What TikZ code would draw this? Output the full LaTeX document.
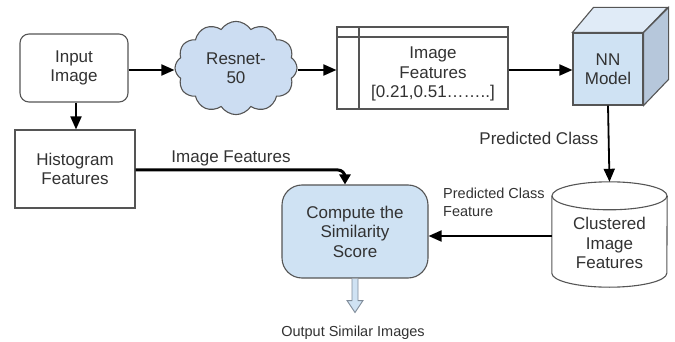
\documentclass[tikz,border=0pt]{standalone}
\usepackage{fontspec}
\setmainfont{Liberation Sans}
\usetikzlibrary{arrows.meta,shapes.symbols,calc}
\definecolor{lblue}{RGB}{207,226,243}
\definecolor{cblue}{RGB}{204,221,242}
\definecolor{tblue}{RGB}{224,235,247}
\definecolor{rblue}{RGB}{182,199,219}
\definecolor{edge}{RGB}{85,85,85}
\definecolor{txt}{RGB}{50,50,50}
\tikzset{
  box/.style={draw=edge,line width=1.1pt,fill=white,align=center,inner sep=0pt,text=txt},
  conn/.style={line width=1.8pt,-{Triangle[length=13pt,width=11pt]}},
  lbl/.style={text=txt,align=center,inner sep=0pt},
}
\begin{document}
\begin{tikzpicture}[x=1pt,y=-1pt,font=\fontsize{17}{19.5}\selectfont]
\useasboundingbox (0,0) rectangle (675,342);
% nodes
\node[box,rounded corners=9pt,minimum width=108pt,minimum height=68pt] (in) at (74,68) {Input\\Image};
\node[box,cloud,cloud puffs=12,cloud puff arc=115,fill=cblue,minimum width=122pt,minimum height=84pt] (rn) at (236,68) {Resnet-\\50};
\node[box,minimum width=171pt,minimum height=82pt] (feat) at (422.5,68) {};
\draw[edge,line width=1.1pt] (337,37) -- (508,37) (359,27) -- (359,109);
\node[lbl,anchor=center] (feattxt) at (433,74) {Image\\Features\\{}[0.21,0.51……..]};
% cube
\node[box,fill=lblue,minimum width=70pt,minimum height=72pt] (nn) at (608,69) {NN\\Model};
\draw[edge,line width=1.1pt,fill=tblue] (nn.north west) -- ++(21,-25) -- ++(74,0) -- (nn.north east) -- cycle;
\draw[edge,line width=1.1pt,fill=rblue] (nn.north east) -- ++(25,-25) -- ++(0,72) -- (nn.south east) -- cycle;
\node[box,minimum width=120pt,minimum height=78pt] (hist) at (75,169) {Histogram\\Features};
\node[box,fill=lblue,rounded corners=20pt,minimum width=146pt,minimum height=93pt] (cs) at (355,231.5) {Compute the\\Similarity\\Score};
% cylinder
\node[minimum width=115pt,minimum height=105pt,inner sep=0pt] (cyl) at (609.5,234.5) {};
\draw[edge,line width=1.1pt,fill=white] ($(cyl.north west)+(0,14)$) -- ($(cyl.south west)+(0,-14)$) arc[start angle=180,end angle=360,x radius=57.5,y radius=-14] -- ($(cyl.north east)+(0,14)$);
\draw[edge,line width=1.1pt] ($(cyl.north)+(0,14)$) ellipse[x radius=57.5,y radius=14];
\node[lbl] (cyltxt) at (609.5,243) {Clustered\\Image\\Features};
% connectors
\draw[conn] (in.east |- 0,70) -- (rn.west |- 0,70);
\draw[conn] (rn.east |- 0,70) -- (feat.west |- 0,70);
\draw[conn] (feat.east |- 0,70) -- (nn.west |- 0,70);
\draw[conn] (in.south -| 76,0) -- (hist.north -| 76,0);
\draw[conn] (nn.south) -- (cyl.north);
\node[lbl] (pc) at (539,138) {Predicted Class};
\draw[conn] (cyl.west |- 0,236) -- (cs.east |- 0,236);
\node[lbl,anchor=north west,align=left,font=\fontsize{14.5}{17.5}\selectfont] (pcf) at (443,188) {Predicted Class\\Feature};
\draw[line width=3pt,rounded corners=7pt,-{Triangle[length=10pt,width=11pt]}] (hist.east |- 0,170) -- (345,170) -- (cs.north -| 345,0);
\node[lbl] (imf) at (231,158) {Image Features};
% output arrow
\node[lbl,font=\fontsize{14.5}{17.5}\selectfont] (out) at (353,333) {Output Similar Images};
\draw[draw=rblue!70!black,line width=0.9pt,fill=lblue,line join=miter]
  ($(cs.south)+(-3,0)$) -- ($(cs.south)+(-3,22)$) -- ($(cs.south)+(-8,22)$) -- ($(cs.south)+(0,34)$)
  -- ($(cs.south)+(8,22)$) -- ($(cs.south)+(3,22)$) -- ($(cs.south)+(3,0)$);
\end{tikzpicture}
\end{document}
